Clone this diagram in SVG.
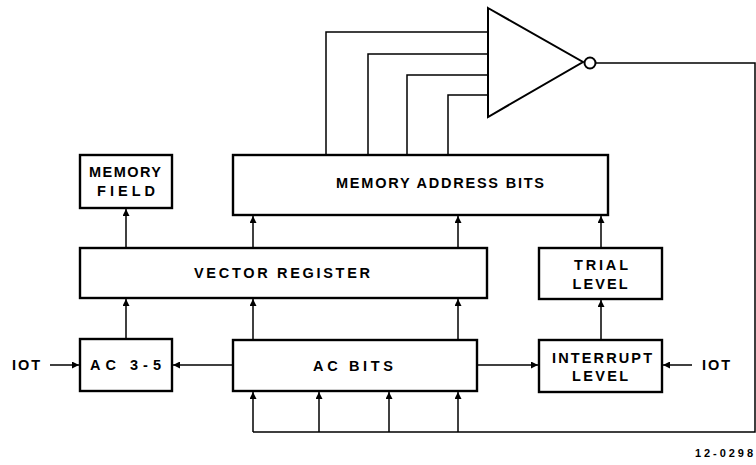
<svg xmlns="http://www.w3.org/2000/svg" width="756" height="465" viewBox="0 0 756 465">
<style>
.box{fill:#fff;stroke:#000;stroke-width:2.4}
.ln{fill:none;stroke:#000;stroke-width:1.5}
.t{font-family:"Liberation Sans",Arial,sans-serif;font-weight:bold;font-size:14.5px;text-anchor:middle;fill:#000}
</style>
<defs>
<marker id="ah" viewBox="0 0 10 10" refX="10" refY="5" markerWidth="7" markerHeight="7" markerUnits="userSpaceOnUse" orient="auto">
<path d="M0,0 L10,5 L0,10 z" fill="#000"/>
</marker>
</defs>
<g id="connectors">
<path class="ln" d="M326,155 V32 H488 M368,155 V54 H488 M407,155 V75 H488 M448,155 V95 H488"/>
<path class="ln" d="M596,63 H755 V432 H253"/>
<path class="ln" marker-end="url(#ah)" d="M253,432 V392"/>
<path class="ln" marker-end="url(#ah)" d="M319,432 V392"/>
<path class="ln" marker-end="url(#ah)" d="M389,432 V392"/>
<path class="ln" marker-end="url(#ah)" d="M458,432 V392"/>
<path class="ln" marker-end="url(#ah)" d="M253,340 V299"/>
<path class="ln" marker-end="url(#ah)" d="M458,340 V299"/>
<path class="ln" marker-end="url(#ah)" d="M126,339 V299"/>
<path class="ln" marker-end="url(#ah)" d="M253,248 V216"/>
<path class="ln" marker-end="url(#ah)" d="M458,248 V216"/>
<path class="ln" marker-end="url(#ah)" d="M601,248 V216"/>
<path class="ln" marker-end="url(#ah)" d="M126,248 V209"/>
<path class="ln" marker-end="url(#ah)" d="M601,340 V300"/>
<path class="ln" marker-end="url(#ah)" d="M233,365 H173"/>
<path class="ln" marker-end="url(#ah)" d="M477,365 H538"/>
<path class="ln" marker-end="url(#ah)" d="M50,365 H79"/>
<path class="ln" marker-end="url(#ah)" d="M692,365 H663"/>
</g>
<g id="inverter">
<path d="M488,8 L583,62 L488,117 Z" fill="#fff" stroke="#000" stroke-width="2"/>
<circle cx="590" cy="63" r="5.5" fill="#fff" stroke="#000" stroke-width="2"/>
</g>
<g id="memory-address-bits">
<rect class="box" x="233" y="155" width="375" height="60"/>
<text class="t" x="440" y="188" textLength="208" lengthAdjust="spacing">MEMORY ADDRESS BITS</text>
</g>
<g id="memory-field">
<rect class="box" x="80" y="155" width="92" height="53"/>
<text class="t" x="125" y="177" textLength="72" lengthAdjust="spacing">MEMORY</text>
<text class="t" x="126" y="196" textLength="58" lengthAdjust="spacing">FIELD</text>
</g>
<g id="vector-register">
<rect class="box" x="80" y="248" width="407" height="50"/>
<text class="t" x="282" y="278" textLength="176" lengthAdjust="spacing">VECTOR REGISTER</text>
</g>
<g id="trial-level">
<rect class="box" x="539" y="248" width="123" height="51"/>
<text class="t" x="601" y="270" textLength="54" lengthAdjust="spacing">TRIAL</text>
<text class="t" x="600" y="289" textLength="55" lengthAdjust="spacing">LEVEL</text>
</g>
<g id="ac-3-5">
<rect class="box" x="80" y="339" width="92" height="52"/>
<text class="t" x="125.5" y="370" textLength="71" lengthAdjust="spacing">AC  3-5</text>
</g>
<g id="ac-bits">
<rect class="box" x="233" y="340" width="244" height="51"/>
<text class="t" x="353" y="371" textLength="80" lengthAdjust="spacing">AC BITS</text>
</g>
<g id="interrupt-level">
<rect class="box" x="539" y="340" width="123" height="52"/>
<text class="t" x="602" y="363" textLength="100" lengthAdjust="spacing">INTERRUPT</text>
<text class="t" x="600" y="381" textLength="56" lengthAdjust="spacing">LEVEL</text>
</g>
<g id="labels">
<text class="t" x="26" y="370" textLength="28" lengthAdjust="spacing">IOT</text>
<text class="t" x="716" y="370" textLength="28" lengthAdjust="spacing">IOT</text>
<text class="t" x="724" y="457" style="font-size:11px" textLength="58" lengthAdjust="spacing">12-0298</text>
</g>
</svg>
